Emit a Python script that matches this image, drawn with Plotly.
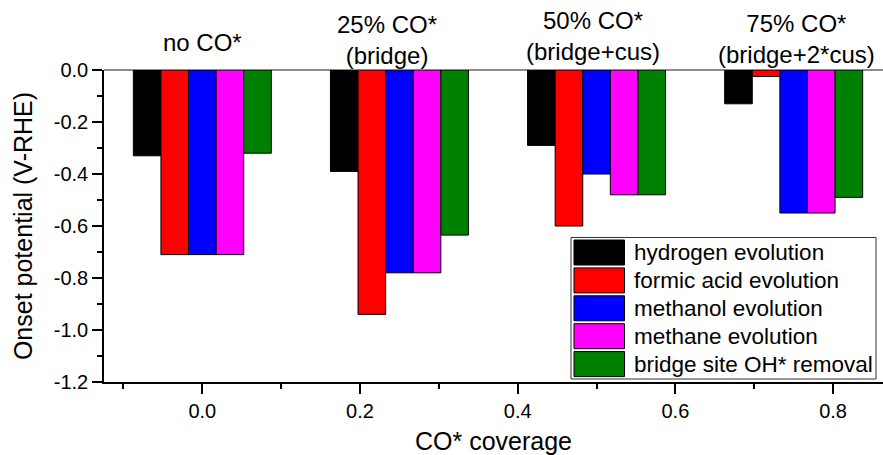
import plotly.graph_objects as go

# CO* coverage on the surface (x positions of the bar groups)
coverage = [0.0, 0.25, 0.5, 0.75]

# onset potentials (V vs RHE) per process
series_names = [
    "hydrogen evolution",
    "formic acid evolution",
    "methanol evolution",
    "methane evolution",
    "bridge site OH* removal",
]
hydrogen = [-0.33, -0.39, -0.29, -0.13]
formic_acid = [-0.71, -0.94, -0.60, -0.025]
methanol = [-0.71, -0.78, -0.40, -0.55]
methane = [-0.71, -0.78, -0.48, -0.55]
oh_removal = [-0.32, -0.635, -0.48, -0.49]

series_colors = ["#000000", "#FF0000", "#0000FF", "#FF00FF", "#008000"]

group_labels = [
    "no CO*",
    "25% CO*<br>(bridge)",
    "50% CO*<br>(bridge+cus)",
    "75% CO*<br>(bridge+2*cus)",
]

x_tick_vals = [0.0, 0.2, 0.4, 0.6, 0.8]
x_tick_text = ["0.0", "0.2", "0.4", "0.6", "0.8"]
y_tick_vals = [0.0, -0.2, -0.4, -0.6, -0.8, -1.0, -1.2]
y_tick_text = ["0.0", "-0.2", "-0.4", "-0.6", "-0.8", "-1.0", "-1.2"]

FONT = "Liberation Sans, Arial, sans-serif"
W, H = 883, 455
M_L, M_R, M_T, M_B = 104, 0, 70, 73

bar_w = 0.035
all_series = [hydrogen, formic_acid, methanol, methane, oh_removal]

fig = go.Figure()
for i, (name, vals, col) in enumerate(zip(series_names, all_series, series_colors)):
    fig.add_trace(go.Bar(
        x=coverage, y=vals, name=name,
        width=bar_w, offset=-2.5 * bar_w + i * bar_w,
        marker=dict(color=col, line=dict(color="#000000", width=1)),
        showlegend=False,
    ))

# group captions above the plot
label_x = [0.0, 0.234, 0.496, 0.753]
label_y = [1.088, 1.097, 1.109, 1.099]
annotations = []
for txt, lx, ly in zip(group_labels, label_x, label_y):
    annotations.append(dict(
        x=lx, y=ly, xref="x", yref="paper", text=txt, showarrow=False,
        xanchor="center", yanchor="middle",
        font=dict(family=FONT, size=24, color="#000000"),
    ))

# legend drawn as a framed box with large colour swatches
pw = W - M_L - M_R
ph = H - M_T - M_B
def px_x(p):
    return (p - M_L) / pw
def px_y(p):
    return (H - M_B - p) / ph

shapes = [dict(
    type="rect", xref="paper", yref="paper",
    x0=px_x(571), x1=px_x(876), y0=px_y(379), y1=px_y(237.5),
    line=dict(color="#333333", width=1), fillcolor="#FFFFFF", layer="above",
)]
row_top = 240.0
row_pitch = 27.9
sw_h = 25.0
for i, (name, col) in enumerate(zip(series_names, series_colors)):
    top = row_top + i * row_pitch
    shapes.append(dict(
        type="rect", xref="paper", yref="paper",
        x0=px_x(574), x1=px_x(624.5), y0=px_y(top + sw_h), y1=px_y(top),
        line=dict(color="#000000", width=1), fillcolor=col, layer="above",
    ))
    annotations.append(dict(
        x=px_x(632), y=px_y(top + sw_h / 2), xref="paper", yref="paper",
        text=name, showarrow=False, xanchor="left", yanchor="middle",
        font=dict(family=FONT, size=22.5, color="#000000"),
    ))

fig.update_layout(
    width=W, height=H,
    margin=dict(l=M_L, r=M_R, t=M_T, b=M_B, pad=0),
    paper_bgcolor="#FFFFFF", plot_bgcolor="#FFFFFF",
    font=dict(family=FONT, color="#000000"),
    barmode="overlay",
    shapes=shapes,
    annotations=annotations,
    xaxis=dict(
        range=[-0.1247, 0.8633],
        tickmode="array", tickvals=x_tick_vals, ticktext=x_tick_text,
        ticks="outside", ticklen=10, tickwidth=1.5, tickcolor="#000000",
        minor=dict(tickmode="linear", tick0=0.1, dtick=0.2, ticks="outside",
                   ticklen=5, tickwidth=1.5, tickcolor="#000000"),
        showline=True, linecolor="#000000", linewidth=1.5,
        showgrid=False, zeroline=False,
        tickfont=dict(family=FONT, size=20),
        title=dict(text="CO* coverage", font=dict(family=FONT, size=25), standoff=12),
    ),
    yaxis=dict(
        range=[-1.2, 0.0],
        tickmode="array", tickvals=y_tick_vals, ticktext=y_tick_text,
        ticks="outside", ticklen=10, tickwidth=1.5, tickcolor="#000000",
        minor=dict(tickmode="linear", tick0=-0.1, dtick=0.2, ticks="outside",
                   ticklen=5, tickwidth=1.5, tickcolor="#000000"),
        showline=True, linecolor="#000000", linewidth=1.5,
        showgrid=False,
        zeroline=True, zerolinecolor="#8c8c8c", zerolinewidth=1.5,
        tickfont=dict(family=FONT, size=20),
        title=dict(text="Onset potential (V-RHE)", font=dict(family=FONT, size=25), standoff=14),
    ),
)

fig.write_html("out.html")
